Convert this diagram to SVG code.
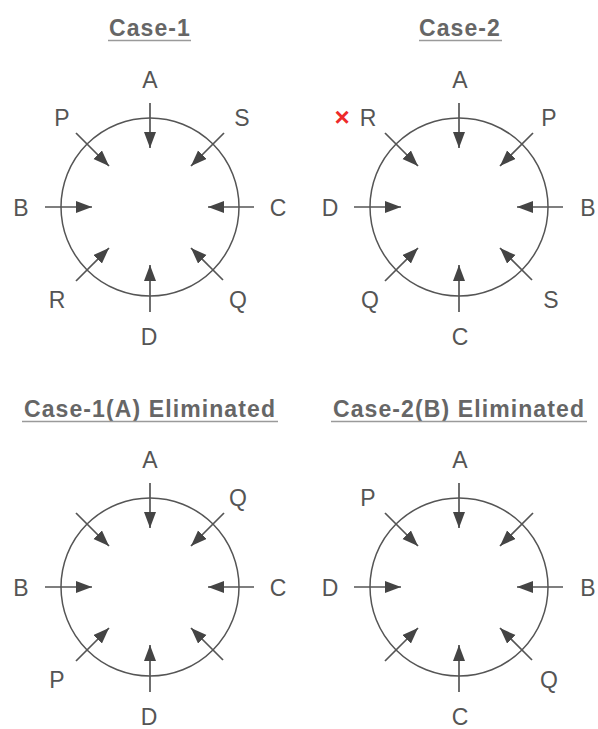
<svg xmlns="http://www.w3.org/2000/svg" width="598" height="729" viewBox="0 0 598 729">
  <style>
    .title { font-family: "Liberation Sans", Arial, sans-serif; font-size: 23px; font-weight: bold; fill: #666; text-anchor: middle; letter-spacing: 1.1px; }
    .uline { stroke: #9a9a9a; stroke-width: 1.5; }
    .ring { fill: none; stroke: #555; stroke-width: 1.5; }
    .arr { stroke: #555; stroke-width: 1.7; marker-end: url(#head); }
    .lbl { font-family: "Liberation Sans", Arial, sans-serif; font-size: 23px; fill: #555; text-anchor: middle; }
    .cross { font-family: "Liberation Sans", Arial, sans-serif; font-size: 26px; font-weight: bold; fill: #ee2a2a; text-anchor: middle; }
  </style>
  <defs>
    <marker id="head" markerUnits="userSpaceOnUse" markerWidth="17" markerHeight="13" refX="16" refY="6" orient="auto">
      <path d="M0,0 L16,6 L0,12 Z" fill="#444"/>
    </marker>
    <g id="ringArrows">
      <circle class="ring" cx="0" cy="0" r="89"/>
      <line class="arr" x1="0" y1="-104" x2="0" y2="-59"/>
      <line class="arr" x1="0" y1="105" x2="0" y2="58"/>
      <line class="arr" x1="-105" y1="0" x2="-58" y2="0"/>
      <line class="arr" x1="104" y1="0" x2="58" y2="0"/>
      <line class="arr" x1="-74" y1="-74" x2="-41" y2="-41"/>
      <line class="arr" x1="74" y1="-74" x2="41" y2="-41"/>
      <line class="arr" x1="-74" y1="74" x2="-41" y2="41"/>
      <line class="arr" x1="73" y1="73" x2="41" y2="41"/>
    </g>
  </defs>
  <rect width="598" height="729" fill="#fff"/>

  <g id="titles">
    <text class="title" x="150" y="36">Case-1</text>
    <line class="uline" x1="108" y1="40.5" x2="191" y2="40.5"/>
    <text class="title" x="460" y="36">Case-2</text>
    <line class="uline" x1="419" y1="40.5" x2="502" y2="40.5"/>
    <text class="title" x="150" y="417">Case-1(A) Eliminated</text>
    <line class="uline" x1="22" y1="421.5" x2="278" y2="421.5"/>
    <text class="title" x="459" y="417">Case-2(B) Eliminated</text>
    <line class="uline" x1="331" y1="421.5" x2="587" y2="421.5"/>
  </g>

  <g id="connectors">
    <use href="#ringArrows" transform="translate(150,207)"/>
    <use href="#ringArrows" transform="translate(459,207)"/>
    <use href="#ringArrows" transform="translate(150,587)"/>
    <use href="#ringArrows" transform="translate(459,587)"/>
  </g>

  <g id="case1" transform="translate(150,207)">
    <text class="lbl" x="0" y="-119">A</text>
    <text class="lbl" x="-88" y="-81">P</text>
    <text class="lbl" x="92" y="-81">S</text>
    <text class="lbl" x="-129" y="9">B</text>
    <text class="lbl" x="128" y="9">C</text>
    <text class="lbl" x="-93" y="101">R</text>
    <text class="lbl" x="88" y="101">Q</text>
    <text class="lbl" x="-1" y="138">D</text>
  </g>

  <g id="case2" transform="translate(459,207)">
    <text class="cross" x="-117" y="-81">×</text>
    <text class="lbl" x="1" y="-119">A</text>
    <text class="lbl" x="-91" y="-81">R</text>
    <text class="lbl" x="90" y="-81">P</text>
    <text class="lbl" x="-129" y="9">D</text>
    <text class="lbl" x="129" y="9">B</text>
    <text class="lbl" x="-89" y="101">Q</text>
    <text class="lbl" x="92" y="101">S</text>
    <text class="lbl" x="1" y="138">C</text>
  </g>

  <g id="case1a" transform="translate(150,587)">
    <text class="lbl" x="0" y="-119">A</text>
    <text class="lbl" x="88" y="-81">Q</text>
    <text class="lbl" x="-129" y="9">B</text>
    <text class="lbl" x="128" y="9">C</text>
    <text class="lbl" x="-93" y="101">P</text>
    <text class="lbl" x="-1" y="138">D</text>
  </g>

  <g id="case2b" transform="translate(459,587)">
    <text class="lbl" x="1" y="-119">A</text>
    <text class="lbl" x="-91" y="-81">P</text>
    <text class="lbl" x="-129" y="9">D</text>
    <text class="lbl" x="129" y="9">B</text>
    <text class="lbl" x="90" y="101">Q</text>
    <text class="lbl" x="1" y="138">C</text>
  </g>
</svg>
